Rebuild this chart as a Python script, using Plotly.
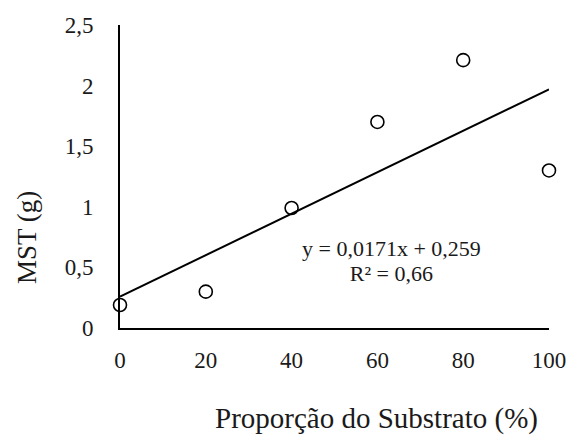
import plotly.graph_objects as go

x_vals = [0, 20, 40, 60, 80, 100]
y_vals = [0.19, 0.30, 0.99, 1.70, 2.21, 1.30]
slope = 0.0171
intercept = 0.259
x_ticks = [0, 20, 40, 60, 80, 100]
y_ticks = [0, 0.5, 1, 1.5, 2, 2.5]
eq_text = "y = 0,0171x + 0,259"
r2_text = "R² = 0,66"

font_family = "'Liberation Serif', 'DejaVu Serif', serif"
txt_color = "#1a1a1a"

fit_x = [min(x_vals), max(x_vals)]
fit_y = [slope * v + intercept for v in fit_x]

fig = go.Figure()
fig.add_trace(go.Scatter(x=fit_x, y=fit_y, mode="lines",
                         line=dict(color="black", width=2), showlegend=False, hoverinfo="skip"))
fig.add_trace(go.Scatter(x=x_vals, y=y_vals, mode="markers",
                         marker=dict(symbol="circle-open", size=13, color="black",
                                     line=dict(width=1.6, color="black")),
                         cliponaxis=False, showlegend=False))

big = "<span style='font-size:22px'>{}</span>"
fig.update_layout(
    width=570, height=436,
    margin=dict(l=120, r=21, t=25, b=108),
    paper_bgcolor="white", plot_bgcolor="white",
    separators=",.",
    font=dict(family=font_family, size=23, color=txt_color),
    xaxis=dict(range=[0, 100], tickvals=x_ticks, showgrid=False, zeroline=False,
               showline=True, linecolor="black", linewidth=2, ticks="", automargin=False,
               ticklabelstandoff=10, tickfont=dict(size=23, family=font_family, color=txt_color)),
    yaxis=dict(range=[0, 2.5], tickvals=y_ticks, showgrid=False, zeroline=False,
               showline=True, linecolor="black", linewidth=2, ticks="", automargin=False,
               ticklabelstandoff=20, tickfont=dict(size=23, family=font_family, color=txt_color)),
    annotations=[
        dict(x=(391 - 120) / 4.29, y=(328 - 261) / 121.2, xref="x", yref="y",
             xanchor="center", yanchor="middle",
             text=big.format(eq_text) + "<br>" + big.format(r2_text), align="center",
             showarrow=False, font=dict(size=19, family=font_family, color=txt_color)),
        dict(x=(27 - 120) / 429, y=(328 - 238) / 303, xref="paper", yref="paper", text="MST (g)",
             xanchor="center", yanchor="middle",
             showarrow=False, textangle=-90, font=dict(size=27, family=font_family, color=txt_color)),
        dict(x=(376 - 120) / 429, y=(328 - 418) / 303, xref="paper", yref="paper",
             xanchor="center", yanchor="middle",
             text="Proporção do Substrato (%)", showarrow=False,
             font=dict(size=29, family=font_family, color=txt_color)),
    ],
)

fig.write_html("out.html")
